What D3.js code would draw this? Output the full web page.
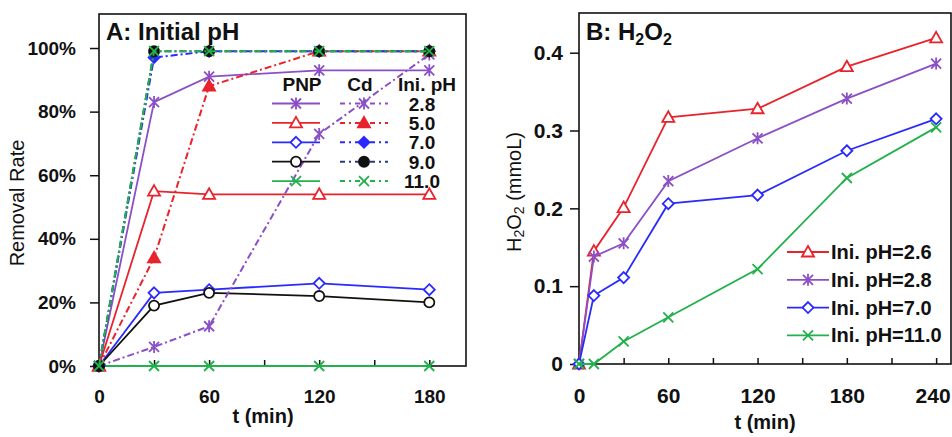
<!DOCTYPE html>
<html>
<head>
<meta charset="utf-8">
<script src="https://cdn.jsdelivr.net/npm/d3@7"></script>
<style>
  body { margin: 0; background: #fff; }
  svg, svg text { font-family: "Liberation Sans", Arial, sans-serif; }
  svg { display: block; }
  .tick text { font-weight: bold; fill: #111; }
</style>
</head>
<body>
<div id="chart"></div>
<script>
// ---- data: panel A (removal rate, %) ----
const timesA = [0, 30, 60, 120, 180];
const phA = ["2.8", "5.0", "7.0", "9.0", "11.0"];
const pnpA = [
    [0, 83, 91, 93, 93],
    [0, 55, 54, 54, 54],
    [0, 23, 24, 26, 24],
    [0, 19, 23, 22, 20],
    [0, 0, 0, 0, 0]
];
const cdA = [
    [0, 6, 12.5, 73, 98],
    [0, 34, 88, 99, 99],
    [0, 97, 99, 99, 99],
    [0, 99, 99, 99, 99],
    [0, 99, 99, 99, 99]
];
const yTicksA = [0, 20, 40, 60, 80, 100];
const xTicksLab = [0, 60, 120, 180];

// ---- data: panel B (H2O2, mmol/L) ----
const timesB = [0, 10, 30, 60, 120, 180, 240];
const phB = ["2.6", "2.8", "7.0", "11.0"];
const h2o2B = [
    [0, 0.145, 0.201, 0.317, 0.328, 0.382, 0.419],
    [0, 0.138, 0.155, 0.235, 0.290, 0.341, 0.386],
    [0, 0.088, 0.111, 0.206, 0.217, 0.274, 0.315],
    [0, 0, 0.029, 0.060, 0.122, 0.239, 0.304]
];
const yTicksB = [0, 0.1, 0.2, 0.3, 0.4];
const xTicksLabB = [0, 60, 120, 180, 240];

// styles
const colA = ["#8b4fc6", "#e8232c", "#2a2aff", "#111111", "#22b14c"];
const cdLineA = ["#8b4fc6", "#e8232c", "#2a2aff", "#243f7a", "#22b14c"];
const shapeA = ["star", "tri", "diamond", "circle", "x"];
const colB = ["#e8232c", "#8b4fc6", "#2a2aff", "#22b14c"];
const shapeB = ["tri", "star", "diamond", "x"];
const dashCd = "7,3,2,3";
const FONT = "Liberation Sans, Arial, sans-serif";

const svg = d3.select("#chart").append("svg")
    .attr("width", 952).attr("height", 437);

function marker(g, shape, x, y, color, filled) {
    let fill = filled ? color : "#fff";
    let m = g.append("path")
        .attr("transform", `translate(${x},${y})`)
        .attr("stroke", color).attr("stroke-width", 1.8);
    if (shape === "star") {
        m.attr("d", "M-5,-5L5,5M-5,5L5,-5M0,-6L0,6").attr("fill", "none");
    } else if (shape === "x") {
        m.attr("d", "M-5,-5L5,5M-5,5L5,-5").attr("fill", "none");
    } else if (shape === "tri") {
        m.attr("d", "M0,-6L6,4.5L-6,4.5Z").attr("fill", fill);
    } else if (shape === "diamond") {
        m.attr("d", "M0,-5.5L5.5,0L0,5.5L-5.5,0Z").attr("fill", fill);
    } else {
        m.attr("d", d3.symbol(d3.symbolCircle, 80)()).attr("fill", fill);
    }
}

function frame(g, x, y, x0, x1, y0, y1, yTicks, yFmt, ySize, yPad, fs, xLab) {
    g.append("rect")
        .attr("x", x0).attr("y", y1).attr("width", x1 - x0).attr("height", y0 - y1)
        .attr("fill", "none").attr("stroke", "#111").attr("stroke-width", 1.6);

    // inward minor ticks every 30 min
    let tickVals = d3.range(30, x.domain()[1], 30);
    g.append("g").attr("transform", `translate(0,${y0})`)
        .call(d3.axisBottom(x).tickValues(tickVals).tickSize(-6).tickFormat(""))
        .call(a => a.select(".domain").remove())
        .selectAll("line").attr("stroke", "#111").attr("stroke-width", 1.5);

    let xa = g.append("g").attr("transform", `translate(0,${y0})`)
        .call(d3.axisBottom(x).tickValues(xLab).tickSize(0).tickPadding(24))
        .attr("font-family", FONT);
    xa.select(".domain").remove();
    xa.selectAll("text").attr("font-size", fs);

    let ya = g.append("g").attr("transform", `translate(${x0},0)`)
        .call(d3.axisLeft(y).tickValues(yTicks).tickFormat(yFmt).tickSize(ySize).tickPadding(yPad))
        .attr("font-family", FONT);
    ya.select(".domain").remove();
    ya.selectAll("line").attr("stroke", "#111").attr("stroke-width", 1.5);
    ya.selectAll("text").attr("font-size", fs);
    return xa;
}

// ================= Panel A =================
const xA = d3.scaleLinear().domain([0, 200]).range([99, 466]);
const yA = d3.scaleLinear().domain([0, 110.7]).range([366, 14]);
const gA = svg.append("g");

frame(gA, xA, yA, 99, 466, 366, 14, yTicksA, d => d + "%", 9, 14, 19, xTicksLab);

const lineA = d3.line().x((d, i) => xA(timesA[i])).y(d => yA(d));

pnpA.forEach((s, k) => {
    gA.append("path").datum(s).attr("d", lineA)
        .attr("fill", "none").attr("stroke", colA[k]).attr("stroke-width", 1.8);
});
pnpA.forEach((s, k) => {
    s.forEach((v, i) => marker(gA, shapeA[k], xA(timesA[i]), yA(v), colA[k], false));
});
cdA.forEach((s, k) => {
    gA.append("path").datum(s).attr("d", lineA)
        .attr("fill", "none").attr("stroke", cdLineA[k]).attr("stroke-width", 2)
        .attr("stroke-dasharray", dashCd);
    s.forEach((v, i) => marker(gA, shapeA[k], xA(timesA[i]), yA(v), colA[k], true));
});

// legend A
const legA = gA.append("g").attr("font-weight", "bold").attr("font-size", 19).attr("fill", "#111");
legA.append("text").attr("x", 302).attr("y", 91).attr("text-anchor", "middle").text("PNP");
legA.append("text").attr("x", 360).attr("y", 91).attr("text-anchor", "middle").text("Cd");
legA.append("text").attr("x", 427).attr("y", 91).attr("text-anchor", "middle").text("Ini. pH");
phA.forEach((p, k) => {
    let cy = 103.5 + k * 19.4;
    legA.append("line").attr("x1", 272).attr("x2", 320).attr("y1", cy).attr("y2", cy)
        .attr("stroke", colA[k]).attr("stroke-width", 1.8);
    marker(legA, shapeA[k], 296, cy, colA[k], false);
    legA.append("line").attr("x1", 340).attr("x2", 388).attr("y1", cy).attr("y2", cy)
        .attr("stroke", cdLineA[k]).attr("stroke-width", 2).attr("stroke-dasharray", "5,4,2,4");
    marker(legA, shapeA[k], 364, cy, colA[k], true);
    legA.append("text").attr("x", 422).attr("y", cy + 7).attr("text-anchor", "middle").text(p);
});

gA.append("text").attr("x", 106).attr("y", 40)
    .attr("font-size", 24).attr("font-weight", "bold").attr("fill", "#111").text("A: Initial pH");
gA.append("text").attr("x", 263).attr("y", 423).attr("text-anchor", "middle")
    .attr("font-size", 20).attr("font-weight", "bold").attr("fill", "#111").text("t (min)");
gA.append("text").attr("transform", "translate(17,203) rotate(-90)")
    .attr("text-anchor", "middle").attr("dominant-baseline", "central")
    .attr("font-size", 20).attr("fill", "#111").text("Removal Rate");

// ================= Panel B =================
const xB = d3.scaleLinear().domain([0, 250]).range([579, 951]);
const yB = d3.scaleLinear().domain([0, 0.451]).range([364, 13]);
const gB = svg.append("g");

const xaB = frame(gB, xB, yB, 579, 951, 364, 13, yTicksB, d => d === 0 ? "0" : d3.format(".1f")(d), 9, 7, 21, xTicksLabB);
// keep the last label inside the picture
xaB.selectAll(".tick").filter(d => d === 240).select("text")
    .attr("text-anchor", "end").attr("x", 14);

const lineB = d3.line().x((d, i) => xB(timesB[i])).y(d => yB(d));
h2o2B.forEach((s, k) => {
    gB.append("path").datum(s).attr("d", lineB)
        .attr("fill", "none").attr("stroke", colB[k]).attr("stroke-width", 1.8);
    s.forEach((v, i) => marker(gB, shapeB[k], xB(timesB[i]), yB(v), colB[k], false));
});

// legend B
const legB = gB.append("g").attr("font-weight", "bold").attr("font-size", 20).attr("fill", "#111");
phB.forEach((p, k) => {
    let cy = 252 + k * 27.8;
    legB.append("line").attr("x1", 787).attr("x2", 829).attr("y1", cy).attr("y2", cy)
        .attr("stroke", colB[k]).attr("stroke-width", 1.8);
    marker(legB, shapeB[k], 808, cy, colB[k], false);
    legB.append("text").attr("x", 831).attr("y", cy + 7).text("Ini. pH=" + p);
});

const tB = gB.append("text").attr("x", 586).attr("y", 40)
    .attr("font-size", 24).attr("font-weight", "bold").attr("fill", "#111");
tB.append("tspan").text("B: H");
tB.append("tspan").attr("font-size", 16).attr("dy", 5).text("2");
tB.append("tspan").attr("dy", -5).text("O");
tB.append("tspan").attr("font-size", 16).attr("dy", 5).text("2");

gB.append("text").attr("x", 765).attr("y", 429).attr("text-anchor", "middle")
    .attr("font-size", 20).attr("font-weight", "bold").attr("fill", "#111").text("t (min)");

const yl = gB.append("text").attr("transform", "translate(514,192) rotate(-90)")
    .attr("text-anchor", "middle").attr("dominant-baseline", "central")
    .attr("font-size", 20).attr("fill", "#111");
yl.append("tspan").text("H");
yl.append("tspan").attr("font-size", 14).attr("dy", 5).text("2");
yl.append("tspan").attr("dy", -5).text("O");
yl.append("tspan").attr("font-size", 14).attr("dy", 5).text("2");
yl.append("tspan").attr("dy", -5).text(" (mmoL)");
</script>
</body>
</html>
